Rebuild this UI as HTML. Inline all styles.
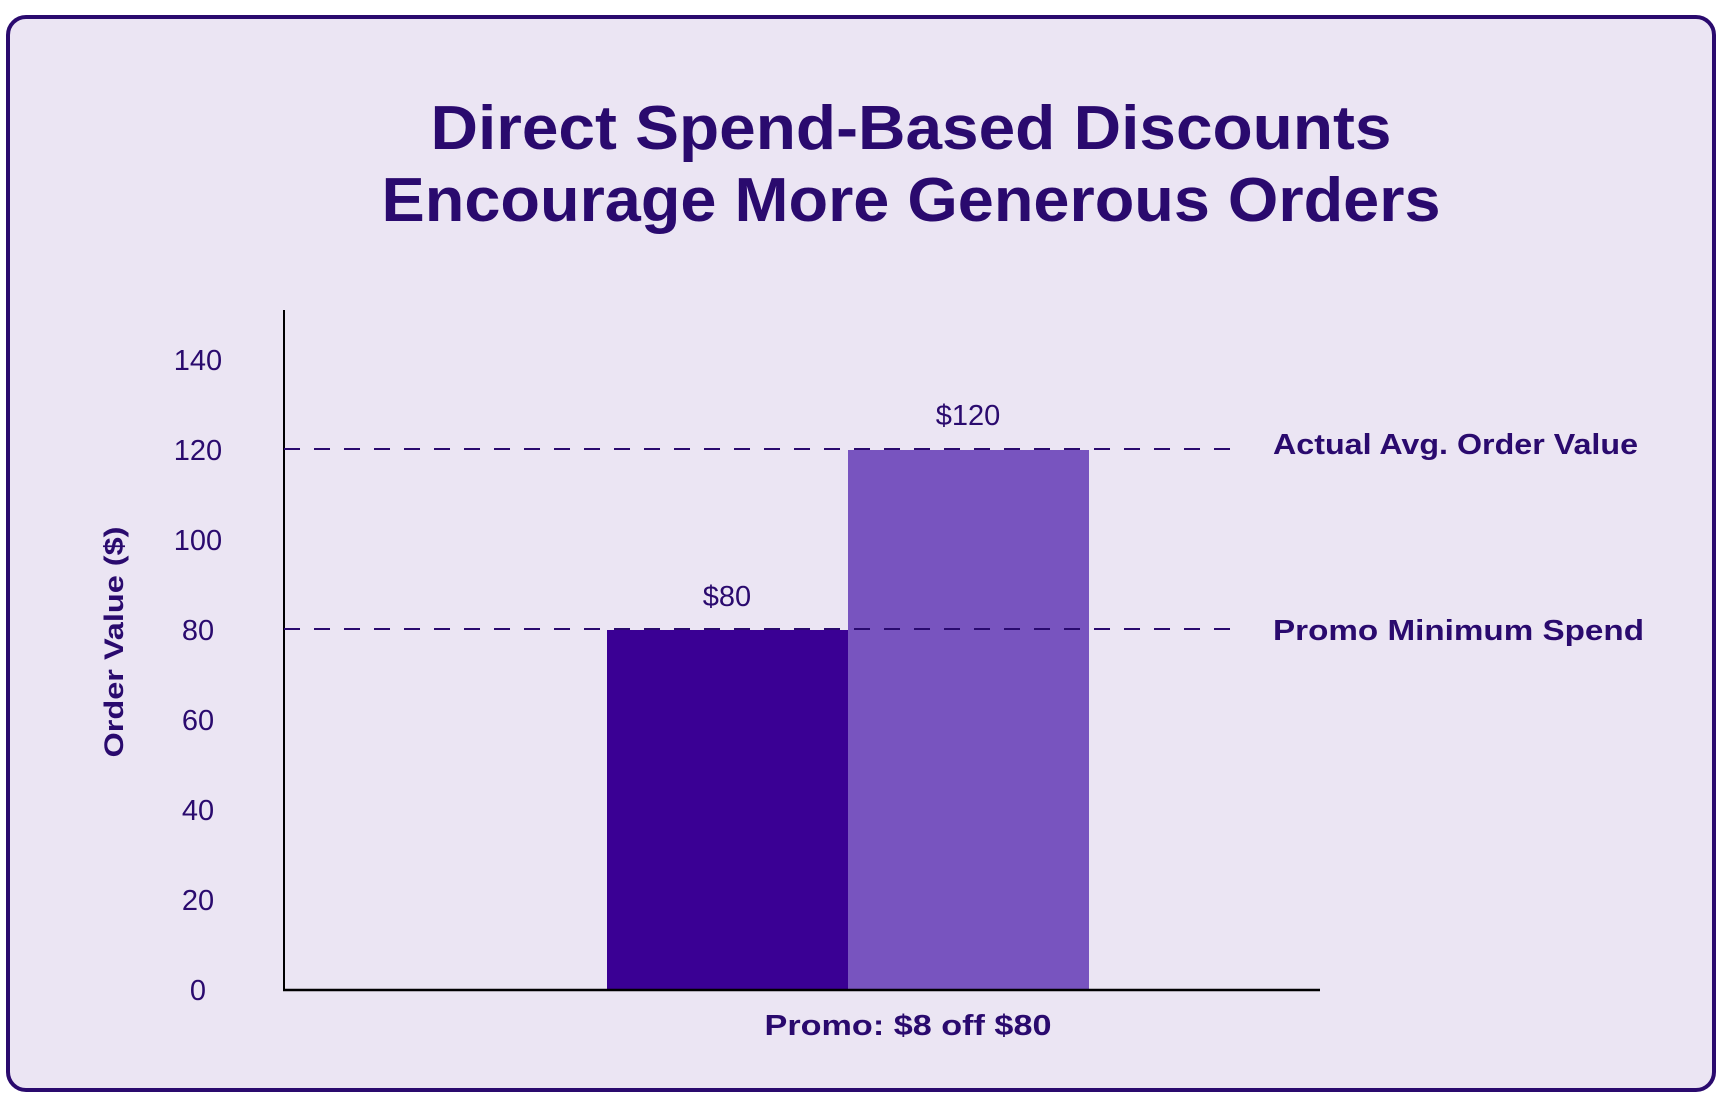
<!DOCTYPE html>
<html><head><style>
html,body{margin:0;padding:0;background:#fff;}
body{width:1722px;height:1094px;overflow:hidden;position:relative;font-family:"Liberation Sans",sans-serif;}
</style></head><body>
<svg width="1722" height="1094" viewBox="0 0 1722 1094" xmlns="http://www.w3.org/2000/svg">
<rect x="8" y="17" width="1706" height="1073" rx="18" fill="#ebe5f3" stroke="#2a0a6e" stroke-width="4"/>
<g fill="#2a0a6e" font-family="Liberation Sans, sans-serif" font-weight="bold" text-anchor="middle" font-size="62">
<text x="911" y="149" textLength="961" lengthAdjust="spacingAndGlyphs">Direct Spend-Based Discounts</text>
<text x="911" y="221" textLength="1059" lengthAdjust="spacingAndGlyphs">Encourage More Generous Orders</text>
</g>
<rect x="607" y="630" width="241" height="360" fill="#3a0094"/>
<rect x="848" y="450" width="241" height="540" fill="#7854bf"/>
<line x1="284" y1="310" x2="284" y2="991" stroke="#000" stroke-width="2"/>
<line x1="283" y1="990" x2="1320" y2="990" stroke="#000" stroke-width="2.5"/>
<g stroke="#2a0a6e" stroke-width="2" stroke-dasharray="16,14">
<line x1="284" y1="449" x2="1240" y2="449"/>
<line x1="284" y1="629" x2="1240" y2="629"/>
</g>
<g fill="#2a0a6e" font-size="29" text-anchor="middle">
<text x="198" y="370">140</text>
<text x="198" y="460">120</text>
<text x="198" y="550">100</text>
<text x="198" y="640">80</text>
<text x="198" y="730">60</text>
<text x="198" y="820">40</text>
<text x="198" y="910">20</text>
<text x="198" y="1000">0</text>
<text x="727" y="606">$80</text>
<text x="968" y="425">$120</text>
</g>
<g fill="#2a0a6e" font-size="29" font-weight="bold">
<text x="1273" y="454" textLength="365" lengthAdjust="spacingAndGlyphs">Actual Avg. Order Value</text>
<text x="1273" y="640" textLength="371" lengthAdjust="spacingAndGlyphs">Promo Minimum Spend</text>
<text x="908" y="1035" text-anchor="middle" textLength="287" lengthAdjust="spacingAndGlyphs">Promo: $8 off $80</text>
<text transform="translate(123,642) rotate(-90)" text-anchor="middle" font-size="27" textLength="231" lengthAdjust="spacingAndGlyphs">Order Value ($)</text>
</g>
</svg>
</body></html>
